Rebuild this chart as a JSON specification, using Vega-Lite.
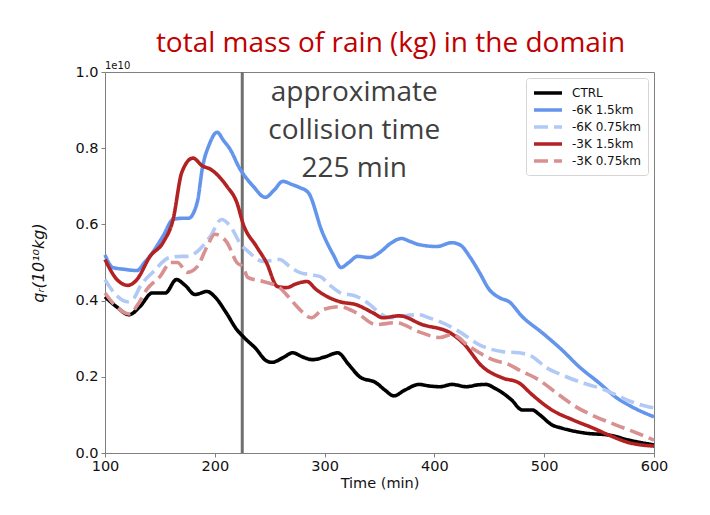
{
  "$schema": "https://vega.github.io/schema/vega-lite/v6.json",
  "width": 549,
  "height": 381,
  "autosize": {"type": "none"},
  "padding": {"left": 105, "top": 72, "right": 56, "bottom": 62},
  "background": "white",
  "title": {
    "text": "total mass of rain (kg) in the domain",
    "font": "Open Sans",
    "fontSize": 28,
    "fontWeight": "normal",
    "color": "#C00000",
    "anchor": "middle",
    "dx": 11,
    "offset": 3
  },
  "config": {
    "view": {"stroke": "#808080", "strokeWidth": 1},
    "axis": {
      "labelFont": "DejaVu Sans",
      "titleFont": "DejaVu Sans",
      "labelFontSize": 14.5,
      "titleFontSize": 14.5,
      "labelColor": "#111111",
      "titleColor": "#111111",
      "titleFontWeight": "normal",
      "domainColor": "#808080",
      "tickColor": "#808080",
      "tickSize": 4,
      "labelFlush": false,
      "grid": false
    },
    "legend": {
      "labelFont": "DejaVu Sans",
      "labelFontSize": 12,
      "labelColor": "#111111"
    }
  },
  "datasets": {
    "series": [
      {"t": 100, "v": 0.41, "s": "CTRL"},
      {"t": 110, "v": 0.385, "s": "CTRL"},
      {"t": 122, "v": 0.363, "s": "CTRL"},
      {"t": 132, "v": 0.385, "s": "CTRL"},
      {"t": 143, "v": 0.42, "s": "CTRL"},
      {"t": 155, "v": 0.42, "s": "CTRL"},
      {"t": 165, "v": 0.455, "s": "CTRL"},
      {"t": 173, "v": 0.44, "s": "CTRL"},
      {"t": 182, "v": 0.416, "s": "CTRL"},
      {"t": 193, "v": 0.424, "s": "CTRL"},
      {"t": 200, "v": 0.41, "s": "CTRL"},
      {"t": 210, "v": 0.37, "s": "CTRL"},
      {"t": 220, "v": 0.324, "s": "CTRL"},
      {"t": 226, "v": 0.305, "s": "CTRL"},
      {"t": 237, "v": 0.275, "s": "CTRL"},
      {"t": 247, "v": 0.242, "s": "CTRL"},
      {"t": 252, "v": 0.238, "s": "CTRL"},
      {"t": 262, "v": 0.25, "s": "CTRL"},
      {"t": 271, "v": 0.263, "s": "CTRL"},
      {"t": 280, "v": 0.252, "s": "CTRL"},
      {"t": 289, "v": 0.245, "s": "CTRL"},
      {"t": 300, "v": 0.252, "s": "CTRL"},
      {"t": 312, "v": 0.263, "s": "CTRL"},
      {"t": 322, "v": 0.232, "s": "CTRL"},
      {"t": 332, "v": 0.2, "s": "CTRL"},
      {"t": 347, "v": 0.184, "s": "CTRL"},
      {"t": 355, "v": 0.165, "s": "CTRL"},
      {"t": 363, "v": 0.15, "s": "CTRL"},
      {"t": 373, "v": 0.165, "s": "CTRL"},
      {"t": 386, "v": 0.18, "s": "CTRL"},
      {"t": 395, "v": 0.176, "s": "CTRL"},
      {"t": 405, "v": 0.174, "s": "CTRL"},
      {"t": 416, "v": 0.18, "s": "CTRL"},
      {"t": 429, "v": 0.174, "s": "CTRL"},
      {"t": 440, "v": 0.179, "s": "CTRL"},
      {"t": 447, "v": 0.18, "s": "CTRL"},
      {"t": 455, "v": 0.17, "s": "CTRL"},
      {"t": 462, "v": 0.158, "s": "CTRL"},
      {"t": 470, "v": 0.14, "s": "CTRL"},
      {"t": 480, "v": 0.113, "s": "CTRL"},
      {"t": 489, "v": 0.113, "s": "CTRL"},
      {"t": 496, "v": 0.1, "s": "CTRL"},
      {"t": 507, "v": 0.074, "s": "CTRL"},
      {"t": 515, "v": 0.066, "s": "CTRL"},
      {"t": 523, "v": 0.06, "s": "CTRL"},
      {"t": 538, "v": 0.052, "s": "CTRL"},
      {"t": 559, "v": 0.047, "s": "CTRL"},
      {"t": 577, "v": 0.034, "s": "CTRL"},
      {"t": 600, "v": 0.021, "s": "CTRL"},

      {"t": 100, "v": 0.52, "s": "-6K 1.5km"},
      {"t": 107, "v": 0.487, "s": "-6K 1.5km"},
      {"t": 118, "v": 0.482, "s": "-6K 1.5km"},
      {"t": 129, "v": 0.479, "s": "-6K 1.5km"},
      {"t": 136, "v": 0.5, "s": "-6K 1.5km"},
      {"t": 144, "v": 0.529, "s": "-6K 1.5km"},
      {"t": 153, "v": 0.57, "s": "-6K 1.5km"},
      {"t": 162, "v": 0.613, "s": "-6K 1.5km"},
      {"t": 170, "v": 0.616, "s": "-6K 1.5km"},
      {"t": 176, "v": 0.616, "s": "-6K 1.5km"},
      {"t": 184, "v": 0.658, "s": "-6K 1.5km"},
      {"t": 189, "v": 0.753, "s": "-6K 1.5km"},
      {"t": 195, "v": 0.81, "s": "-6K 1.5km"},
      {"t": 202, "v": 0.842, "s": "-6K 1.5km"},
      {"t": 208, "v": 0.82, "s": "-6K 1.5km"},
      {"t": 214, "v": 0.797, "s": "-6K 1.5km"},
      {"t": 223, "v": 0.745, "s": "-6K 1.5km"},
      {"t": 226, "v": 0.732, "s": "-6K 1.5km"},
      {"t": 235, "v": 0.7, "s": "-6K 1.5km"},
      {"t": 246, "v": 0.671, "s": "-6K 1.5km"},
      {"t": 254, "v": 0.69, "s": "-6K 1.5km"},
      {"t": 262, "v": 0.713, "s": "-6K 1.5km"},
      {"t": 270, "v": 0.705, "s": "-6K 1.5km"},
      {"t": 277, "v": 0.697, "s": "-6K 1.5km"},
      {"t": 285, "v": 0.684, "s": "-6K 1.5km"},
      {"t": 298, "v": 0.579, "s": "-6K 1.5km"},
      {"t": 308, "v": 0.52, "s": "-6K 1.5km"},
      {"t": 315, "v": 0.487, "s": "-6K 1.5km"},
      {"t": 322, "v": 0.5, "s": "-6K 1.5km"},
      {"t": 330, "v": 0.516, "s": "-6K 1.5km"},
      {"t": 341, "v": 0.513, "s": "-6K 1.5km"},
      {"t": 350, "v": 0.526, "s": "-6K 1.5km"},
      {"t": 360, "v": 0.55, "s": "-6K 1.5km"},
      {"t": 370, "v": 0.563, "s": "-6K 1.5km"},
      {"t": 378, "v": 0.555, "s": "-6K 1.5km"},
      {"t": 386, "v": 0.547, "s": "-6K 1.5km"},
      {"t": 402, "v": 0.542, "s": "-6K 1.5km"},
      {"t": 416, "v": 0.552, "s": "-6K 1.5km"},
      {"t": 424, "v": 0.545, "s": "-6K 1.5km"},
      {"t": 432, "v": 0.516, "s": "-6K 1.5km"},
      {"t": 441, "v": 0.474, "s": "-6K 1.5km"},
      {"t": 450, "v": 0.429, "s": "-6K 1.5km"},
      {"t": 459, "v": 0.408, "s": "-6K 1.5km"},
      {"t": 468, "v": 0.397, "s": "-6K 1.5km"},
      {"t": 480, "v": 0.358, "s": "-6K 1.5km"},
      {"t": 498, "v": 0.316, "s": "-6K 1.5km"},
      {"t": 516, "v": 0.271, "s": "-6K 1.5km"},
      {"t": 532, "v": 0.226, "s": "-6K 1.5km"},
      {"t": 550, "v": 0.184, "s": "-6K 1.5km"},
      {"t": 565, "v": 0.147, "s": "-6K 1.5km"},
      {"t": 580, "v": 0.121, "s": "-6K 1.5km"},
      {"t": 600, "v": 0.095, "s": "-6K 1.5km"},

      {"t": 100, "v": 0.455, "s": "-6K 0.75km"},
      {"t": 110, "v": 0.415, "s": "-6K 0.75km"},
      {"t": 120, "v": 0.397, "s": "-6K 0.75km"},
      {"t": 126, "v": 0.405, "s": "-6K 0.75km"},
      {"t": 132, "v": 0.437, "s": "-6K 0.75km"},
      {"t": 144, "v": 0.476, "s": "-6K 0.75km"},
      {"t": 159, "v": 0.513, "s": "-6K 0.75km"},
      {"t": 170, "v": 0.516, "s": "-6K 0.75km"},
      {"t": 175, "v": 0.516, "s": "-6K 0.75km"},
      {"t": 186, "v": 0.534, "s": "-6K 0.75km"},
      {"t": 196, "v": 0.569, "s": "-6K 0.75km"},
      {"t": 206, "v": 0.613, "s": "-6K 0.75km"},
      {"t": 216, "v": 0.587, "s": "-6K 0.75km"},
      {"t": 223, "v": 0.55, "s": "-6K 0.75km"},
      {"t": 230, "v": 0.53, "s": "-6K 0.75km"},
      {"t": 244, "v": 0.503, "s": "-6K 0.75km"},
      {"t": 259, "v": 0.508, "s": "-6K 0.75km"},
      {"t": 268, "v": 0.49, "s": "-6K 0.75km"},
      {"t": 277, "v": 0.474, "s": "-6K 0.75km"},
      {"t": 287, "v": 0.468, "s": "-6K 0.75km"},
      {"t": 296, "v": 0.463, "s": "-6K 0.75km"},
      {"t": 305, "v": 0.44, "s": "-6K 0.75km"},
      {"t": 314, "v": 0.421, "s": "-6K 0.75km"},
      {"t": 329, "v": 0.411, "s": "-6K 0.75km"},
      {"t": 341, "v": 0.39, "s": "-6K 0.75km"},
      {"t": 350, "v": 0.368, "s": "-6K 0.75km"},
      {"t": 359, "v": 0.355, "s": "-6K 0.75km"},
      {"t": 372, "v": 0.36, "s": "-6K 0.75km"},
      {"t": 386, "v": 0.363, "s": "-6K 0.75km"},
      {"t": 395, "v": 0.355, "s": "-6K 0.75km"},
      {"t": 405, "v": 0.345, "s": "-6K 0.75km"},
      {"t": 423, "v": 0.318, "s": "-6K 0.75km"},
      {"t": 441, "v": 0.284, "s": "-6K 0.75km"},
      {"t": 452, "v": 0.272, "s": "-6K 0.75km"},
      {"t": 462, "v": 0.266, "s": "-6K 0.75km"},
      {"t": 477, "v": 0.263, "s": "-6K 0.75km"},
      {"t": 489, "v": 0.253, "s": "-6K 0.75km"},
      {"t": 502, "v": 0.224, "s": "-6K 0.75km"},
      {"t": 516, "v": 0.205, "s": "-6K 0.75km"},
      {"t": 535, "v": 0.184, "s": "-6K 0.75km"},
      {"t": 550, "v": 0.171, "s": "-6K 0.75km"},
      {"t": 565, "v": 0.153, "s": "-6K 0.75km"},
      {"t": 580, "v": 0.134, "s": "-6K 0.75km"},
      {"t": 600, "v": 0.118, "s": "-6K 0.75km"},

      {"t": 100, "v": 0.508, "s": "-3K 1.5km"},
      {"t": 111, "v": 0.455, "s": "-3K 1.5km"},
      {"t": 121, "v": 0.44, "s": "-3K 1.5km"},
      {"t": 129, "v": 0.455, "s": "-3K 1.5km"},
      {"t": 141, "v": 0.516, "s": "-3K 1.5km"},
      {"t": 153, "v": 0.553, "s": "-3K 1.5km"},
      {"t": 162, "v": 0.613, "s": "-3K 1.5km"},
      {"t": 170, "v": 0.737, "s": "-3K 1.5km"},
      {"t": 180, "v": 0.774, "s": "-3K 1.5km"},
      {"t": 189, "v": 0.753, "s": "-3K 1.5km"},
      {"t": 196, "v": 0.745, "s": "-3K 1.5km"},
      {"t": 204, "v": 0.725, "s": "-3K 1.5km"},
      {"t": 211, "v": 0.7, "s": "-3K 1.5km"},
      {"t": 220, "v": 0.658, "s": "-3K 1.5km"},
      {"t": 226, "v": 0.6, "s": "-3K 1.5km"},
      {"t": 238, "v": 0.542, "s": "-3K 1.5km"},
      {"t": 247, "v": 0.5, "s": "-3K 1.5km"},
      {"t": 257, "v": 0.437, "s": "-3K 1.5km"},
      {"t": 265, "v": 0.434, "s": "-3K 1.5km"},
      {"t": 275, "v": 0.445, "s": "-3K 1.5km"},
      {"t": 284, "v": 0.45, "s": "-3K 1.5km"},
      {"t": 292, "v": 0.43, "s": "-3K 1.5km"},
      {"t": 302, "v": 0.411, "s": "-3K 1.5km"},
      {"t": 314, "v": 0.397, "s": "-3K 1.5km"},
      {"t": 329, "v": 0.389, "s": "-3K 1.5km"},
      {"t": 344, "v": 0.368, "s": "-3K 1.5km"},
      {"t": 353, "v": 0.355, "s": "-3K 1.5km"},
      {"t": 368, "v": 0.36, "s": "-3K 1.5km"},
      {"t": 389, "v": 0.337, "s": "-3K 1.5km"},
      {"t": 414, "v": 0.316, "s": "-3K 1.5km"},
      {"t": 426, "v": 0.289, "s": "-3K 1.5km"},
      {"t": 444, "v": 0.226, "s": "-3K 1.5km"},
      {"t": 462, "v": 0.197, "s": "-3K 1.5km"},
      {"t": 477, "v": 0.184, "s": "-3K 1.5km"},
      {"t": 489, "v": 0.153, "s": "-3K 1.5km"},
      {"t": 507, "v": 0.113, "s": "-3K 1.5km"},
      {"t": 526, "v": 0.087, "s": "-3K 1.5km"},
      {"t": 544, "v": 0.066, "s": "-3K 1.5km"},
      {"t": 559, "v": 0.047, "s": "-3K 1.5km"},
      {"t": 575, "v": 0.029, "s": "-3K 1.5km"},
      {"t": 600, "v": 0.018, "s": "-3K 1.5km"},

      {"t": 100, "v": 0.42, "s": "-3K 0.75km"},
      {"t": 110, "v": 0.385, "s": "-3K 0.75km"},
      {"t": 122, "v": 0.365, "s": "-3K 0.75km"},
      {"t": 130, "v": 0.39, "s": "-3K 0.75km"},
      {"t": 138, "v": 0.429, "s": "-3K 0.75km"},
      {"t": 150, "v": 0.463, "s": "-3K 0.75km"},
      {"t": 160, "v": 0.5, "s": "-3K 0.75km"},
      {"t": 166, "v": 0.5, "s": "-3K 0.75km"},
      {"t": 175, "v": 0.474, "s": "-3K 0.75km"},
      {"t": 184, "v": 0.489, "s": "-3K 0.75km"},
      {"t": 193, "v": 0.542, "s": "-3K 0.75km"},
      {"t": 200, "v": 0.574, "s": "-3K 0.75km"},
      {"t": 211, "v": 0.553, "s": "-3K 0.75km"},
      {"t": 220, "v": 0.5, "s": "-3K 0.75km"},
      {"t": 226, "v": 0.487, "s": "-3K 0.75km"},
      {"t": 230, "v": 0.461, "s": "-3K 0.75km"},
      {"t": 244, "v": 0.45, "s": "-3K 0.75km"},
      {"t": 259, "v": 0.434, "s": "-3K 0.75km"},
      {"t": 267, "v": 0.41, "s": "-3K 0.75km"},
      {"t": 275, "v": 0.384, "s": "-3K 0.75km"},
      {"t": 288, "v": 0.355, "s": "-3K 0.75km"},
      {"t": 298, "v": 0.376, "s": "-3K 0.75km"},
      {"t": 314, "v": 0.384, "s": "-3K 0.75km"},
      {"t": 329, "v": 0.368, "s": "-3K 0.75km"},
      {"t": 347, "v": 0.337, "s": "-3K 0.75km"},
      {"t": 365, "v": 0.342, "s": "-3K 0.75km"},
      {"t": 386, "v": 0.318, "s": "-3K 0.75km"},
      {"t": 405, "v": 0.303, "s": "-3K 0.75km"},
      {"t": 416, "v": 0.311, "s": "-3K 0.75km"},
      {"t": 432, "v": 0.279, "s": "-3K 0.75km"},
      {"t": 453, "v": 0.245, "s": "-3K 0.75km"},
      {"t": 468, "v": 0.232, "s": "-3K 0.75km"},
      {"t": 477, "v": 0.218, "s": "-3K 0.75km"},
      {"t": 495, "v": 0.192, "s": "-3K 0.75km"},
      {"t": 511, "v": 0.158, "s": "-3K 0.75km"},
      {"t": 529, "v": 0.121, "s": "-3K 0.75km"},
      {"t": 547, "v": 0.095, "s": "-3K 0.75km"},
      {"t": 565, "v": 0.074, "s": "-3K 0.75km"},
      {"t": 584, "v": 0.053, "s": "-3K 0.75km"},
      {"t": 600, "v": 0.034, "s": "-3K 0.75km"}
    ],
    "notes": [
      {"t": 327, "v": 0.924, "label": "approximate"},
      {"t": 327, "v": 0.824, "label": "collision time"},
      {"t": 327, "v": 0.724, "label": "225 min"}
    ],
    "collision": [{"t": 225}],
    "exponent": [{"t": 100, "v": 1.0, "label": "1e10"}]
  },
  "layer": [
    {
      "data": {"name": "collision"},
      "mark": {"type": "rule", "color": "#707070", "strokeWidth": 3},
      "encoding": {
        "x": {"field": "t", "type": "quantitative", "scale": {"domain": [100, 600], "nice": false}}
      }
    },
    {
      "data": {"name": "series"},
      "mark": {"type": "line", "interpolate": "monotone", "strokeWidth": 3.6, "strokeCap": "butt"},
      "encoding": {
        "x": {
          "field": "t", "type": "quantitative",
          "scale": {"domain": [100, 600], "nice": false},
          "axis": {"values": [100, 200, 300, 400, 500, 600], "title": "Time (min)", "labelPadding": 2, "titlePadding": 4}
        },
        "y": {
          "field": "v", "type": "quantitative",
          "scale": {"domain": [0, 1], "nice": false},
          "axis": {"values": [0, 0.2, 0.4, 0.6, 0.8, 1.0], "format": ".1f", "title": "qᵣ(10¹⁰kg)", "titleFontStyle": "italic", "titleFontSize": 16, "labelPadding": 3, "titlePadding": 28}
        },
        "color": {
          "field": "s", "type": "nominal",
          "scale": {
            "domain": ["CTRL", "-6K 1.5km", "-6K 0.75km", "-3K 1.5km", "-3K 0.75km"],
            "range": ["#000000", "#6495ED", "#B1C9F6", "#B22222", "#D99090"]
          },
          "legend": {
            "title": null,
            "orient": "top-right",
            "offset": 6,
            "symbolType": "M-1,0H3",
            "symbolSize": 196,
            "symbolStrokeWidth": 3.6,
            "rowPadding": 0,
            "padding": 6,
            "strokeColor": "#d5d5d5",
            "fillColor": "white",
            "cornerRadius": 3,
            "labelOffset": 22
          }
        },
        "strokeDash": {
          "field": "s", "type": "nominal",
          "scale": {
            "domain": ["CTRL", "-6K 1.5km", "-6K 0.75km", "-3K 1.5km", "-3K 0.75km"],
            "range": [[1, 0], [1, 0], [14, 6], [1, 0], [14, 6]]
          },
          "legend": {
            "title": null,
            "orient": "top-right",
            "offset": 6,
            "symbolType": "M-1,0H3",
            "symbolSize": 196,
            "symbolStrokeWidth": 3.6,
            "rowPadding": 0,
            "padding": 6,
            "strokeColor": "#d5d5d5",
            "fillColor": "white",
            "cornerRadius": 3,
            "labelOffset": 22
          }
        }
      }
    },
    {
      "data": {"name": "notes"},
      "mark": {"type": "text", "font": "Open Sans", "fontSize": 28, "color": "#404040", "align": "center", "baseline": "alphabetic"},
      "encoding": {
        "x": {"field": "t", "type": "quantitative", "scale": {"domain": [100, 600], "nice": false}},
        "y": {"field": "v", "type": "quantitative", "scale": {"domain": [0, 1], "nice": false}},
        "text": {"field": "label"}
      }
    },
    {
      "data": {"name": "exponent"},
      "mark": {"type": "text", "font": "DejaVu Sans", "fontSize": 10, "color": "#111111", "align": "left", "baseline": "bottom", "dy": -1},
      "encoding": {
        "x": {"field": "t", "type": "quantitative", "scale": {"domain": [100, 600], "nice": false}},
        "y": {"field": "v", "type": "quantitative", "scale": {"domain": [0, 1], "nice": false}},
        "text": {"field": "label"}
      }
    }
  ]
}
